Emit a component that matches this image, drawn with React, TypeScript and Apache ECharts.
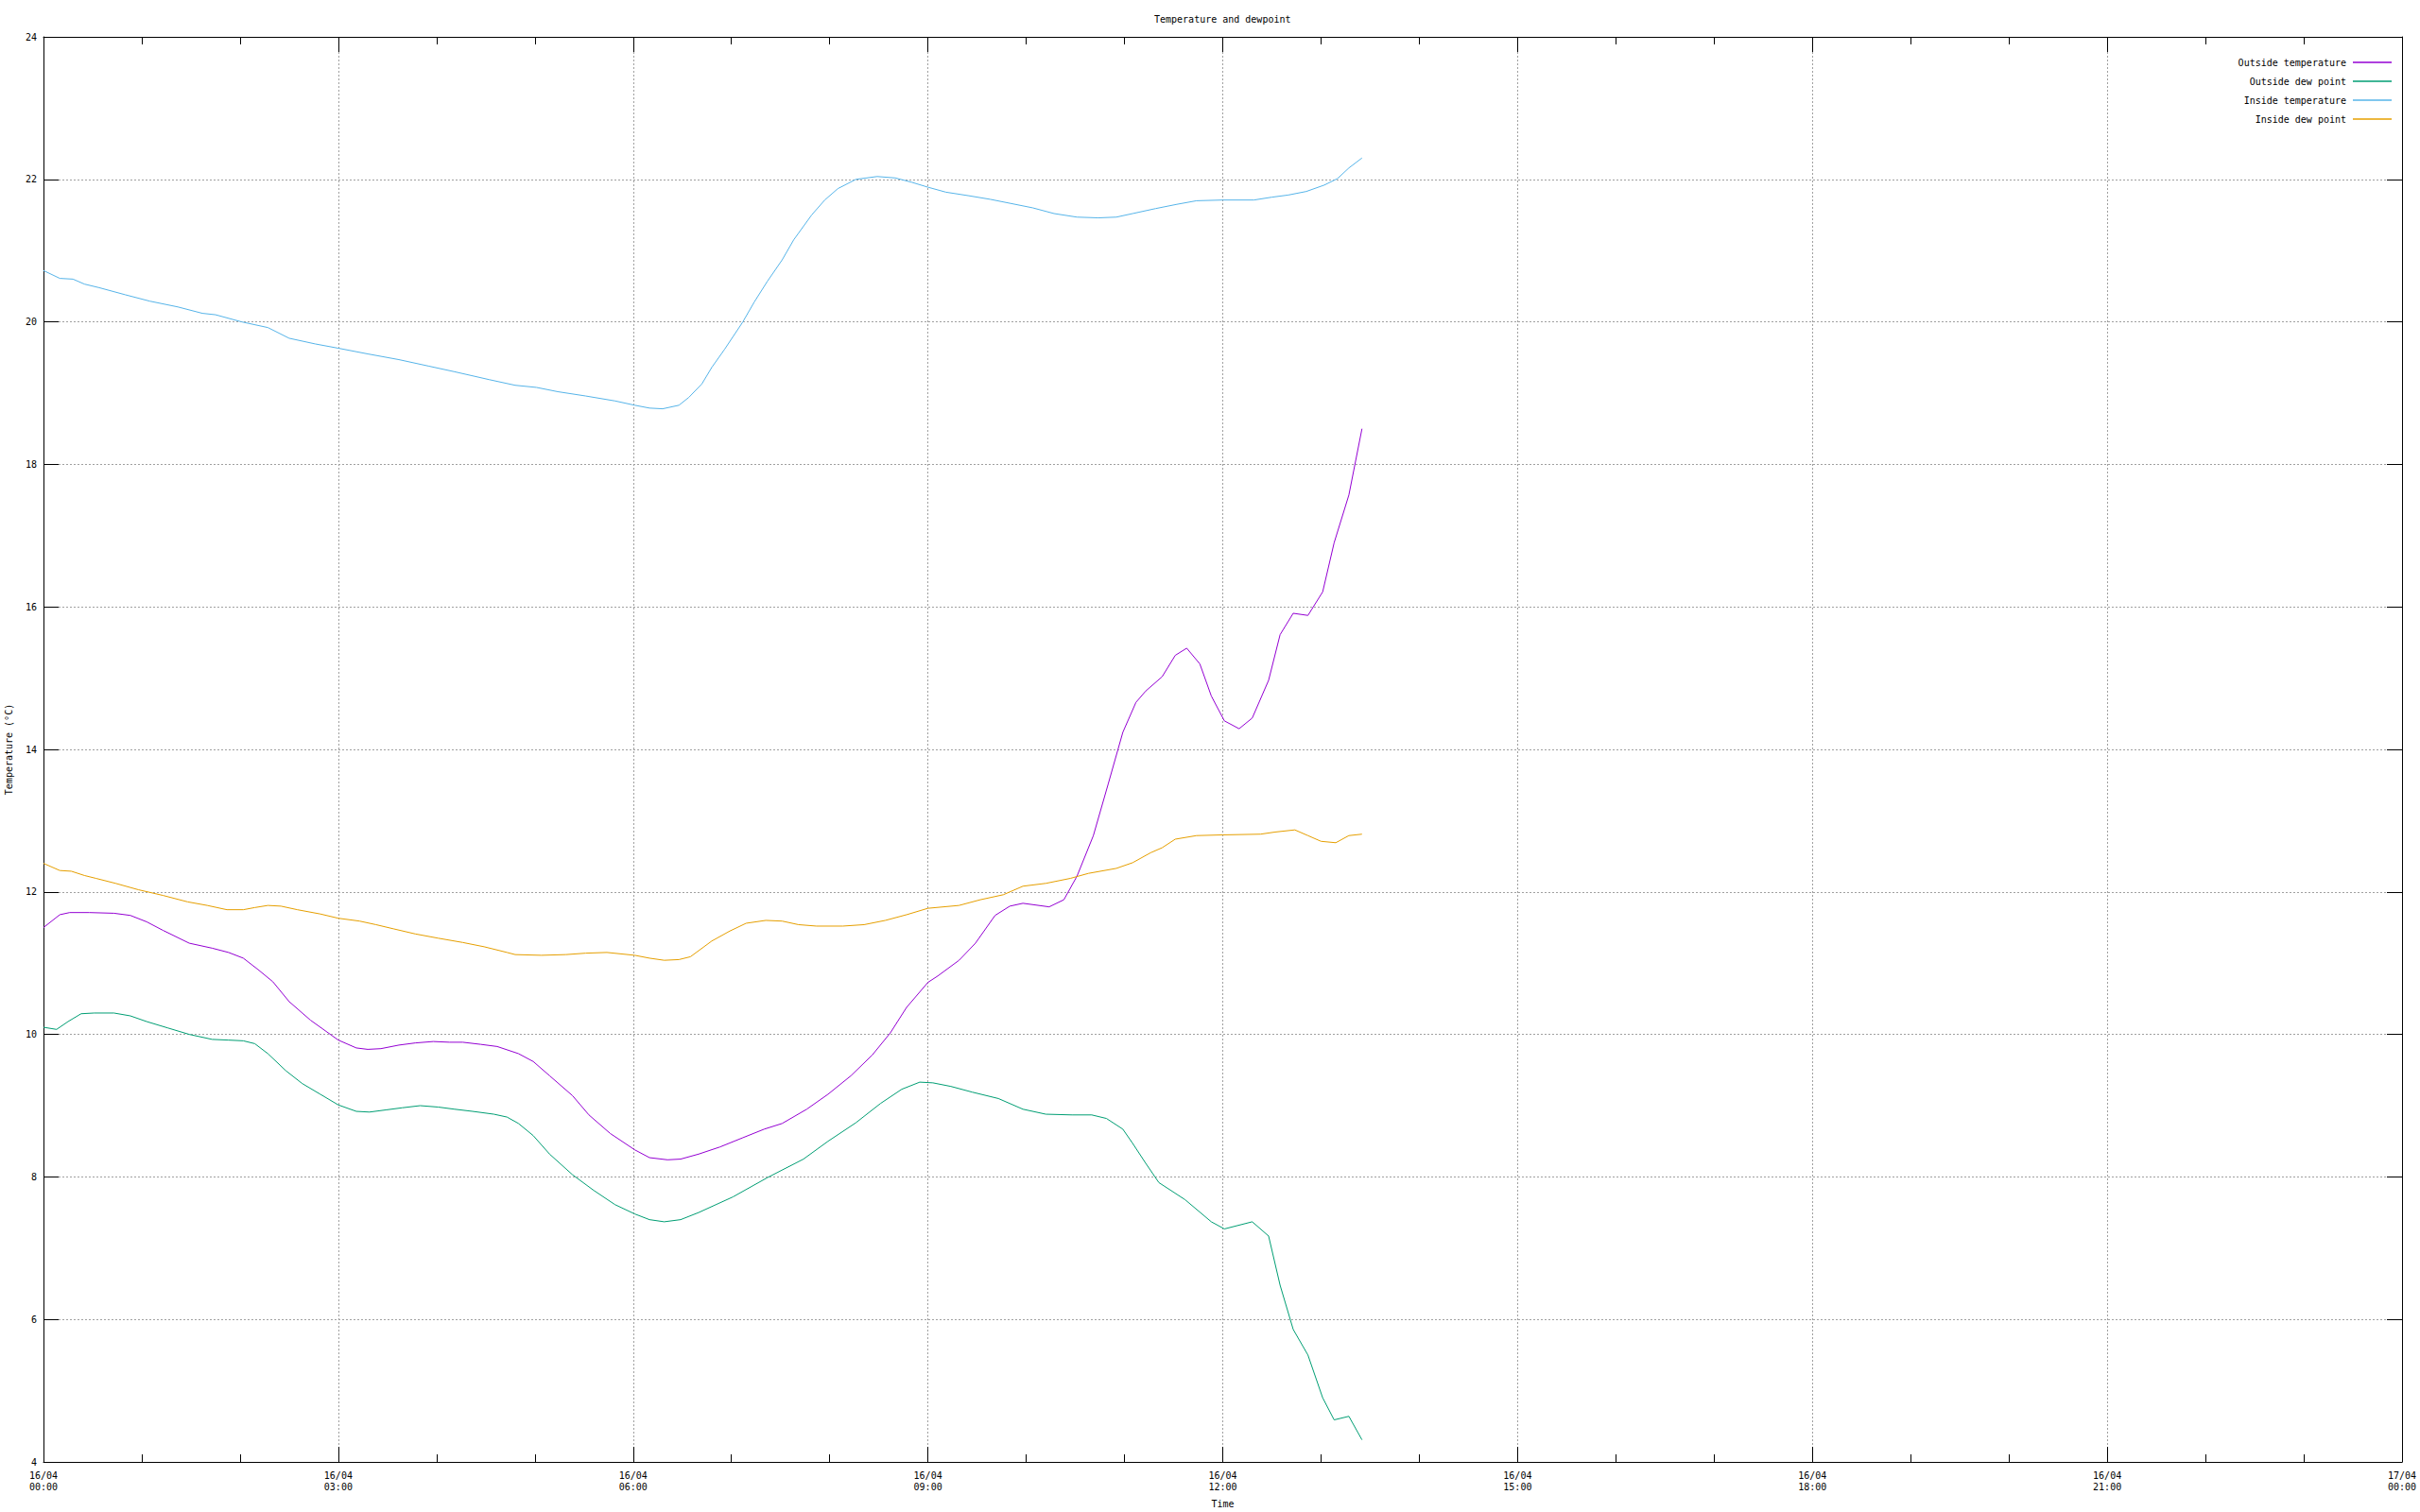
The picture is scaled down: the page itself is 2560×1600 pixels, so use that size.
import React, { useEffect, useRef } from "react";
import * as echarts from "echarts";

// Time in minutes after 16/04 00:00, values in °C
const outsideTempTimes = [0, 10, 16, 28, 43, 53, 63, 73, 89, 103, 113, 122, 131, 140, 150, 163, 180, 191, 198, 206, 217, 227, 238, 248, 256, 267, 277, 290, 299, 309, 323, 333, 346, 361, 370, 381, 389, 400, 413, 427, 440, 451, 466, 479, 493, 506, 517, 527, 540, 546, 559, 569, 581, 590, 598, 614, 623, 631, 641, 650, 659, 667, 673, 683, 691, 698, 706, 713, 721, 730, 738, 748, 755, 763, 772, 781, 788, 797, 805];
const outsideTempValues = [11.5, 11.68, 11.71, 11.71, 11.7, 11.67, 11.58, 11.46, 11.28, 11.21, 11.15, 11.07, 10.91, 10.74, 10.46, 10.2, 9.92, 9.81, 9.79, 9.8, 9.85, 9.88, 9.9, 9.89, 9.89, 9.86, 9.83, 9.73, 9.62, 9.42, 9.14, 8.87, 8.61, 8.38, 8.27, 8.24, 8.25, 8.32, 8.42, 8.55, 8.67, 8.75, 8.95, 9.16, 9.42, 9.71, 10.02, 10.38, 10.73, 10.82, 11.04, 11.28, 11.67, 11.8, 11.84, 11.79, 11.89, 12.22, 12.79, 13.51, 14.24, 14.66, 14.82, 15.02, 15.32, 15.42, 15.2, 14.75, 14.4, 14.29, 14.44, 14.97, 15.61, 15.91, 15.88, 16.21, 16.9, 17.57, 18.5];

const outsideDewTimes = [0, 8, 15, 23, 31, 43, 53, 63, 76, 89, 103, 113, 122, 129, 137, 148, 158, 169, 180, 191, 199, 209, 219, 230, 241, 251, 262, 275, 283, 290, 299, 309, 323, 336, 349, 361, 370, 379, 389, 400, 421, 442, 464, 479, 496, 511, 524, 535, 543, 554, 567, 583, 598, 612, 628, 640, 649, 659, 665, 673, 681, 697, 713, 721, 738, 748, 755, 763, 772, 781, 788, 797, 805];
const outsideDewValues = [10.1, 10.07, 10.18, 10.29, 10.3, 10.3, 10.26, 10.18, 10.09, 10.0, 9.93, 9.92, 9.91, 9.87, 9.73, 9.49, 9.31, 9.16, 9.01, 8.92, 8.91, 8.94, 8.97, 9.0, 8.98, 8.95, 8.92, 8.88, 8.84, 8.75, 8.58, 8.32, 8.03, 7.81, 7.61, 7.48, 7.4, 7.37, 7.4, 7.5, 7.72, 7.99, 8.25, 8.5, 8.76, 9.03, 9.23, 9.33, 9.32, 9.27, 9.19, 9.1, 8.95, 8.88, 8.87, 8.87, 8.82, 8.67, 8.47, 8.19, 7.92, 7.68, 7.37, 7.27, 7.37, 7.17, 6.48, 5.86, 5.5, 4.9, 4.59, 4.64, 4.31];

const insideTempTimes = [0, 10, 18, 25, 34, 50, 65, 82, 97, 105, 121, 137, 150, 166, 180, 198, 217, 235, 251, 272, 288, 301, 314, 331, 349, 361, 370, 378, 388, 394, 402, 408, 416, 427, 434, 442, 451, 458, 469, 477, 485, 496, 509, 520, 530, 540, 551, 565, 578, 591, 604, 617, 631, 644, 655, 665, 679, 692, 704, 720, 739, 750, 760, 771, 782, 790, 797, 805];
const insideTempValues = [20.72, 20.61, 20.6, 20.53, 20.48, 20.38, 20.29, 20.21, 20.12, 20.1, 20.0, 19.92, 19.77, 19.69, 19.63, 19.55, 19.47, 19.38, 19.3, 19.19, 19.11, 19.08, 19.02, 18.96, 18.89, 18.83, 18.79, 18.78, 18.83, 18.94, 19.13, 19.36, 19.62, 20.0, 20.28, 20.57, 20.87, 21.15, 21.5, 21.71, 21.87, 22.0, 22.04, 22.02, 21.96, 21.89, 21.82, 21.77, 21.72, 21.66, 21.6, 21.52, 21.47, 21.46, 21.47, 21.52, 21.59, 21.65, 21.7, 21.71, 21.71, 21.75, 21.78, 21.83, 21.92, 22.01, 22.16, 22.3];

const insideDewTimes = [0, 10, 17, 25, 32, 44, 58, 73, 88, 100, 112, 122, 129, 137, 145, 155, 169, 180, 193, 203, 214, 227, 241, 256, 269, 283, 288, 304, 319, 331, 344, 361, 370, 379, 388, 395, 408, 419, 429, 441, 451, 461, 472, 488, 501, 514, 527, 540, 559, 572, 586, 598, 612, 627, 638, 655, 665, 676, 683, 691, 704, 720, 743, 752, 764, 772, 780, 789, 797, 805];
const insideDewValues = [12.4, 12.3, 12.29, 12.23, 12.19, 12.12, 12.03, 11.95, 11.86, 11.81, 11.75, 11.75, 11.78, 11.81, 11.8, 11.75, 11.69, 11.63, 11.59, 11.54, 11.48, 11.41, 11.35, 11.29, 11.23, 11.15, 11.12, 11.11, 11.12, 11.14, 11.15, 11.11, 11.07, 11.04, 11.05, 11.09, 11.31, 11.45, 11.56, 11.6, 11.59, 11.54, 11.52, 11.52, 11.54, 11.6, 11.68, 11.77, 11.81, 11.89, 11.96, 12.08, 12.12, 12.19, 12.26, 12.33, 12.41, 12.55, 12.62, 12.74, 12.79, 12.8, 12.81, 12.84, 12.87, 12.79, 12.71, 12.69, 12.79, 12.81];

const seriesNames = ["Outside temperature", "Outside dew point", "Inside temperature", "Inside dew point"];
const seriesColors = ["#9400d3", "#009e73", "#56b4e9", "#e69f00"];

const xTickLabels = ["16/04\n00:00", "16/04\n03:00", "16/04\n06:00", "16/04\n09:00", "16/04\n12:00", "16/04\n15:00", "16/04\n18:00", "16/04\n21:00", "17/04\n00:00"];
const xMin = 0;
const xMax = 1440;
const xInterval = 180;
const yMin = 4;
const yMax = 24;
const yInterval = 2;

const FONT = "'DejaVu Sans Mono', 'Liberation Mono', monospace";

function pairs(t: number[], v: number[]) {
  return t.map((x, i) => [x, v[i]]);
}

export default function App() {
  const ref = useRef<HTMLDivElement>(null);
  useEffect(() => {
    if (!ref.current) return;
    const chart = echarts.init(ref.current, null, { renderer: "svg" });
    const seriesData = [
      pairs(outsideTempTimes, outsideTempValues),
      pairs(outsideDewTimes, outsideDewValues),
      pairs(insideTempTimes, insideTempValues),
      pairs(insideDewTimes, insideDewValues),
    ];
    const gridLine = { show: true, lineStyle: { color: "#a0a0a0", width: 1, type: [2, 2] as any } };
    const axisLine = { show: true, onZero: false, lineStyle: { color: "#000", width: 1 } };
    chart.setOption({
      animation: false,
      backgroundColor: "#fff",
      title: {
        text: "Temperature and dewpoint",
        left: 1221,
        top: 15,
        padding: 0,
        textStyle: { fontFamily: FONT, fontSize: 10, fontWeight: "normal", color: "#000" },
      },
      legend: {
        orient: "vertical",
        right: 30,
        top: 56,
        align: "right",
        itemWidth: 41,
        itemHeight: 1.5,
        itemGap: 0,
        icon: "rect",
        selectedMode: false,
        padding: 0,
        data: seriesNames,
        textStyle: { fontFamily: FONT, fontSize: 10, color: "#000", lineHeight: 20, padding: [0, 2, 0, 0] },
      },
      grid: { left: 46, top: 39, width: 2495, height: 1508, containLabel: false, outerBoundsMode: "none" },
      xAxis: [
        {
          type: "value",
          min: xMin,
          max: xMax,
          interval: xInterval,
          position: "bottom",
          name: "Time",
          nameLocation: "middle",
          nameGap: 39,
          nameTextStyle: { fontFamily: FONT, fontSize: 10, color: "#000" },
          axisLine,
          axisTick: { show: true, inside: true, length: 16, lineStyle: { color: "#000" } },
          minorTick: { show: true, splitNumber: 3, length: 8, lineStyle: { color: "#000" } },
          axisLabel: {
            show: true,
            margin: 8,
            fontFamily: FONT,
            fontSize: 10,
            color: "#000",
            lineHeight: 12,
            formatter: (v: number) => xTickLabels[Math.round((v - xMin) / xInterval)] ?? "",
          },
          splitLine: gridLine,
        },
        {
          type: "value",
          min: xMin,
          max: xMax,
          interval: xInterval,
          position: "top",
          axisLine,
          axisTick: { show: true, inside: true, length: 16, lineStyle: { color: "#000" } },
          minorTick: { show: true, splitNumber: 3, length: 8, lineStyle: { color: "#000" } },
          axisLabel: { show: false },
          splitLine: { show: false },
        },
      ],
      yAxis: [
        {
          type: "value",
          min: yMin,
          max: yMax,
          interval: yInterval,
          position: "left",
          name: "Temperature (°C)",
          nameLocation: "middle",
          nameGap: 32,
          nameTextStyle: { fontFamily: FONT, fontSize: 10, color: "#000" },
          axisLine,
          axisTick: { show: true, inside: true, length: 16, lineStyle: { color: "#000" } },
          axisLabel: { show: true, margin: 7, fontFamily: FONT, fontSize: 10, color: "#000" },
          splitLine: gridLine,
        },
        {
          type: "value",
          min: yMin,
          max: yMax,
          interval: yInterval,
          position: "right",
          axisLine,
          axisTick: { show: true, inside: true, length: 16, lineStyle: { color: "#000" } },
          axisLabel: { show: false },
          splitLine: { show: false },
        },
      ],
      series: seriesNames.map((name, i) => ({
        name,
        type: "line",
        xAxisIndex: 0,
        yAxisIndex: 0,
        data: seriesData[i],
        color: seriesColors[i],
        showSymbol: false,
        symbol: "none",
        lineStyle: { color: seriesColors[i], width: 1 },
        emphasis: { disabled: true },
      })),
    });
    return () => chart.dispose();
  }, []);
  return (
    <div
      ref={ref}
      style={{ position: "fixed", left: 0, top: 0, width: 2560, height: 1600, background: "#fff" }}
    />
  );
}
